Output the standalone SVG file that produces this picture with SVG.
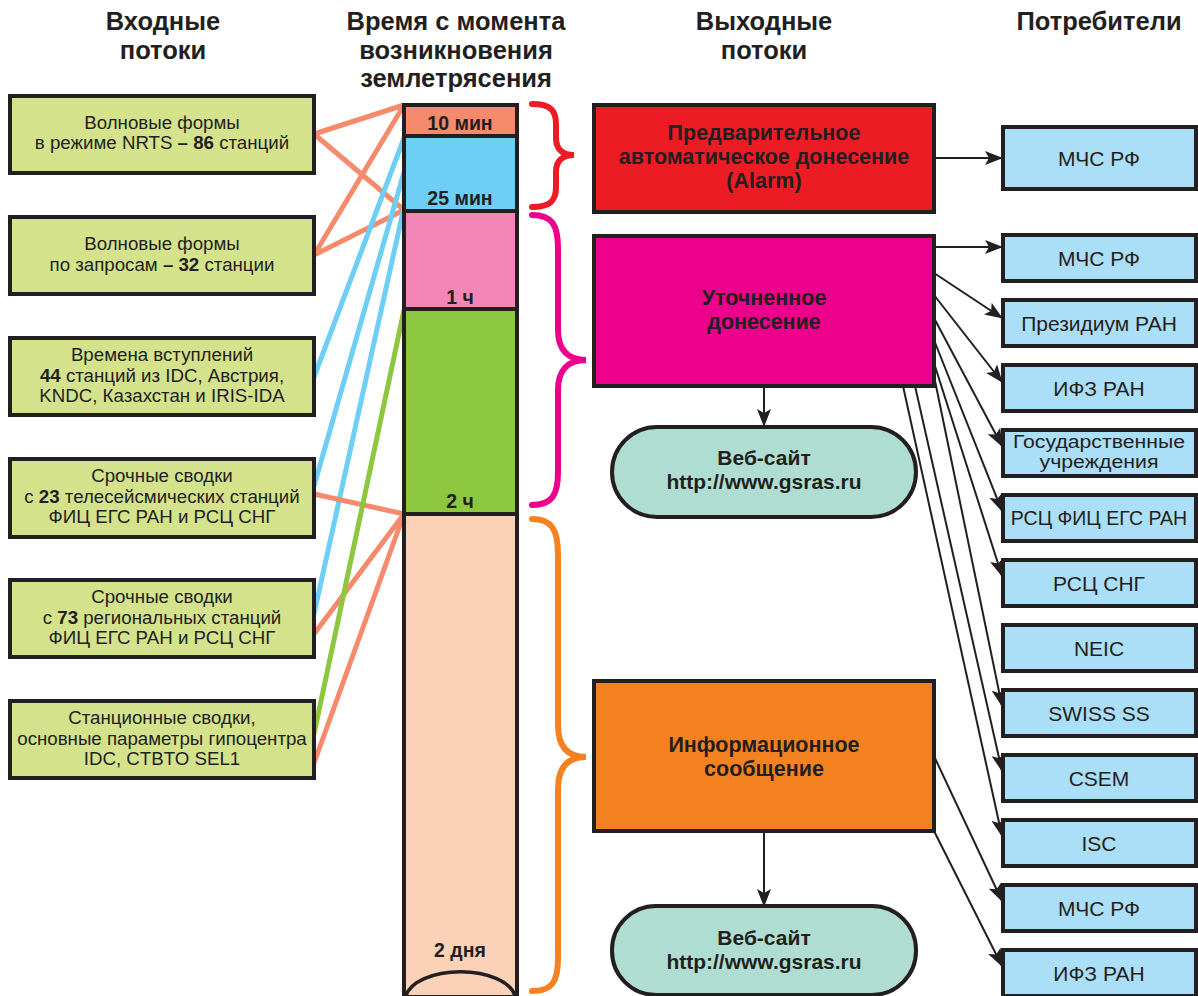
<svg xmlns="http://www.w3.org/2000/svg" width="1198" height="996" viewBox="0 0 1198 996">
<defs>
<style>
text{font-family:"Liberation Sans",Arial,sans-serif;fill:#231f20;text-anchor:middle}
.h{font-size:25.5px;font-weight:bold}
.in{font-size:18.7px}
.b{font-weight:bold}
.inbox{fill:#d5e28c;stroke:#231f20;stroke-width:4}
.cons{fill:#abdef7;stroke:#231f20;stroke-width:4}
.cons-t{font-size:21px}
.cons-m{font-size:19.5px}
.cons-s{font-size:17.5px}
.out{stroke:#231f20;stroke-width:4}
.out-t{font-size:21.5px;font-weight:bold}
.web{fill:#b0ddd2;stroke:#231f20;stroke-width:4}
.web-t{font-size:21px;font-weight:bold}
.tl{font-size:19.5px;font-weight:bold}
.seg{stroke:#231f20;stroke-width:4}
.lk{fill:none;stroke-width:5}
.ar{fill:none;stroke:#231f20;stroke-width:2;marker-end:url(#ah)}
.br{fill:none;stroke-width:6;stroke-linecap:round}
</style>
<marker id="ah" markerUnits="userSpaceOnUse" markerWidth="18" markerHeight="14" refX="17" refY="7" orient="auto">
<path d="M0,0 L18,7 L0,14 L4,7 z" fill="#231f20"/>
</marker>
</defs>
<rect width="1198" height="996" fill="#ffffff"/>

<g id="headers">
<text class="h" x="163" y="30">Входные</text>
<text class="h" x="163" y="59">потоки</text>
<text class="h" x="456" y="30">Время с момента</text>
<text class="h" x="456" y="59">возникновения</text>
<text class="h" x="456" y="87">землетрясения</text>
<text class="h" x="764" y="30">Выходные</text>
<text class="h" x="764" y="59">потоки</text>
<text class="h" x="1099" y="30">Потребители</text>
</g>

<g id="input-links">
<path class="lk" stroke="#f58a6c" d="M314,134 L404,105 M314,134 L404,210 M314,255 L404,105 M314,255 L404,210"/>
<path class="lk" stroke="#6dcff6" d="M314,377 L404,138 M314,486 L404,172 M314,614 L404,207"/>
<path class="lk" stroke="#f58a6c" d="M314,494 L404,514 M314,634 L404,514 M314,763 L404,514"/>
<path class="lk" stroke="#8dc63f" d="M314,734 L404,310"/>
</g>

<g id="in1"><rect class="inbox" x="10" y="96" width="304" height="77"/>
<text class="in" x="162" y="129">Волновые формы</text>
<text class="in" x="162" y="149">в режиме NRTS <tspan class="b">– 86</tspan> станций</text></g>
<g id="in2"><rect class="inbox" x="10" y="217" width="304" height="77"/>
<text class="in" x="162" y="250">Волновые формы</text>
<text class="in" x="162" y="271">по запросам <tspan class="b">– 32</tspan> станции</text></g>
<g id="in3"><rect class="inbox" x="10" y="338" width="304" height="77"/>
<text class="in" x="162" y="361">Времена вступлений</text>
<text class="in" x="162" y="382"><tspan class="b">44</tspan> станций из IDC, Австрия,</text>
<text class="in" x="162" y="402">KNDC, Казахстан и IRIS-IDA</text></g>
<g id="in4"><rect class="inbox" x="10" y="459" width="304" height="78"/>
<text class="in" x="162" y="482">Срочные сводки</text>
<text class="in" x="162" y="503">с <tspan class="b">23</tspan> телесейсмических станций</text>
<text class="in" x="162" y="523">ФИЦ ЕГС РАН и РСЦ СНГ</text></g>
<g id="in5"><rect class="inbox" x="10" y="580" width="304" height="77"/>
<text class="in" x="162" y="603">Срочные сводки</text>
<text class="in" x="162" y="624">с <tspan class="b">73</tspan> региональных станций</text>
<text class="in" x="162" y="644">ФИЦ ЕГС РАН и РСЦ СНГ</text></g>
<g id="in6"><rect class="inbox" x="10" y="701" width="304" height="77"/>
<text class="in" x="162" y="724">Станционные сводки,</text>
<text class="in" x="162" y="745">основные параметры гипоцентра</text>
<text class="in" x="162" y="765">IDC, CTBTO SEL1</text></g>

<g id="timeline">
<rect x="404" y="105" width="113" height="31" fill="#f58a6c"/>
<rect x="404" y="136" width="113" height="75" fill="#6dcff6"/>
<rect x="404" y="211" width="113" height="98" fill="#f287b7"/>
<rect x="404" y="309" width="113" height="205" fill="#8dc63f"/>
<rect x="404" y="514" width="113" height="482" fill="#fbd2b8"/>
<path class="seg" d="M404,136 H517 M404,211 H517 M404,309 H517 M404,514 H517"/>
<rect x="404" y="105" width="113" height="892" fill="none" stroke="#231f20" stroke-width="4"/>
<path d="M406,996 A55,28 0 0 1 515,996" fill="none" stroke="#231f20" stroke-width="3.5"/>
<text class="tl" x="460" y="130">10 мин</text>
<text class="tl" x="460" y="205">25 мин</text>
<text class="tl" x="460" y="304">1 ч</text>
<text class="tl" x="460" y="508">2 ч</text>
<text class="tl" x="460" y="957">2 дня</text>
</g>

<g id="braces">
<path class="br" stroke="#ed1c24" d="M532,104 C550,104 556,110 556,124 L556,138 C556,149 562,155 574,155 C562,155 556,161 556,172 L556,187 C556,201 550,207 532,207"/>
<path class="br" stroke="#ec008c" d="M532,215 C552,215 558,225 558,248 L558,330 C558,350 568,360 586,360 C568,360 558,370 558,390 L558,472 C558,495 552,505 532,505"/>
<path class="br" stroke="#f58220" d="M532,519 C552,519 558,530 558,555 L558,725 C558,747 568,757 586,757 C568,757 558,767 558,789 L558,958 C558,982 552,991 532,991"/>
</g>

<g id="out-links">
<path class="ar" d="M934,158 L1002,158"/>
<path class="ar" d="M934,247 L1002,247"/>
<path class="ar" d="M934,273 L1002,318"/>
<path class="ar" d="M934,295 L1002,382"/>
<path class="ar" d="M934,318 L1002,446"/>
<path class="ar" d="M934,340 L1002,511"/>
<path class="ar" d="M934,363 L1002,576"/>
<path class="ar" d="M934,376 L1002,706"/>
<path class="ar" d="M915,386 L1002,771"/>
<path class="ar" d="M903,386 L1002,836"/>
<path class="ar" d="M934,756 L1002,901"/>
<path class="ar" d="M934,831 L1002,966"/>
<path class="ar" d="M764,386 L764,426"/>
<path class="ar" d="M764,831 L764,906"/>
</g>

<g id="alarm"><rect class="out" x="594" y="105" width="340" height="107" fill="#ed1c24"/>
<text class="out-t" x="764" y="140">Предварительное</text>
<text class="out-t" x="764" y="164">автоматическое донесение</text>
<text class="out-t" x="764" y="188">(Alarm)</text></g>
<g id="refined"><rect class="out" x="594" y="236" width="340" height="150" fill="#ec008c"/>
<text class="out-t" x="764" y="305">Уточненное</text>
<text class="out-t" x="764" y="329">донесение</text></g>
<g id="web1"><rect class="web" x="612" y="427" width="304" height="90" rx="45" ry="45"/>
<text class="web-t" x="764" y="465">Веб-сайт</text>
<text class="web-t" x="764" y="489">http://www.gsras.ru</text></g>
<g id="info"><rect class="out" x="594" y="681" width="340" height="150" fill="#f58220"/>
<text class="out-t" x="764" y="752">Информационное</text>
<text class="out-t" x="764" y="776">сообщение</text></g>
<g id="web2"><rect class="web" x="612" y="906" width="304" height="89" rx="44" ry="44"/>
<text class="web-t" x="764" y="945">Веб-сайт</text>
<text class="web-t" x="764" y="969">http://www.gsras.ru</text></g>

<g id="c1"><rect class="cons" x="1003" y="127" width="193" height="62"/><text class="cons-t" x="1099" y="166">МЧС РФ</text></g>
<g id="c2"><rect class="cons" x="1003" y="235" width="193" height="46"/><text class="cons-t" x="1099" y="266">МЧС РФ</text></g>
<g id="c3"><rect class="cons" x="1003" y="300" width="193" height="46"/><text class="cons-t" x="1099" y="331">Президиум РАН</text></g>
<g id="c4"><rect class="cons" x="1003" y="365" width="193" height="46"/><text class="cons-t" x="1099" y="396">ИФЗ РАН</text></g>
<g id="c5"><rect class="cons" x="1003" y="430" width="193" height="46"/><text class="cons-s" x="1099" y="448" textLength="172" lengthAdjust="spacingAndGlyphs">Государственные</text><text class="cons-s" x="1099" y="468" textLength="119" lengthAdjust="spacingAndGlyphs">учреждения</text></g>
<g id="c6"><rect class="cons" x="1003" y="495" width="193" height="46"/><text class="cons-m" x="1099" y="525">РСЦ ФИЦ ЕГС РАН</text></g>
<g id="c7"><rect class="cons" x="1003" y="560" width="193" height="46"/><text class="cons-t" x="1099" y="591">РСЦ СНГ</text></g>
<g id="c8"><rect class="cons" x="1003" y="625" width="193" height="46"/><text class="cons-t" x="1099" y="656">NEIC</text></g>
<g id="c9"><rect class="cons" x="1003" y="690" width="193" height="46"/><text class="cons-t" x="1099" y="721">SWISS SS</text></g>
<g id="c10"><rect class="cons" x="1003" y="755" width="193" height="46"/><text class="cons-t" x="1099" y="786">CSEM</text></g>
<g id="c11"><rect class="cons" x="1003" y="820" width="193" height="46"/><text class="cons-t" x="1099" y="851">ISC</text></g>
<g id="c12"><rect class="cons" x="1003" y="885" width="193" height="46"/><text class="cons-t" x="1099" y="916">МЧС РФ</text></g>
<g id="c13"><rect class="cons" x="1003" y="950" width="193" height="46"/><text class="cons-t" x="1099" y="981">ИФЗ РАН</text></g>
</svg>
